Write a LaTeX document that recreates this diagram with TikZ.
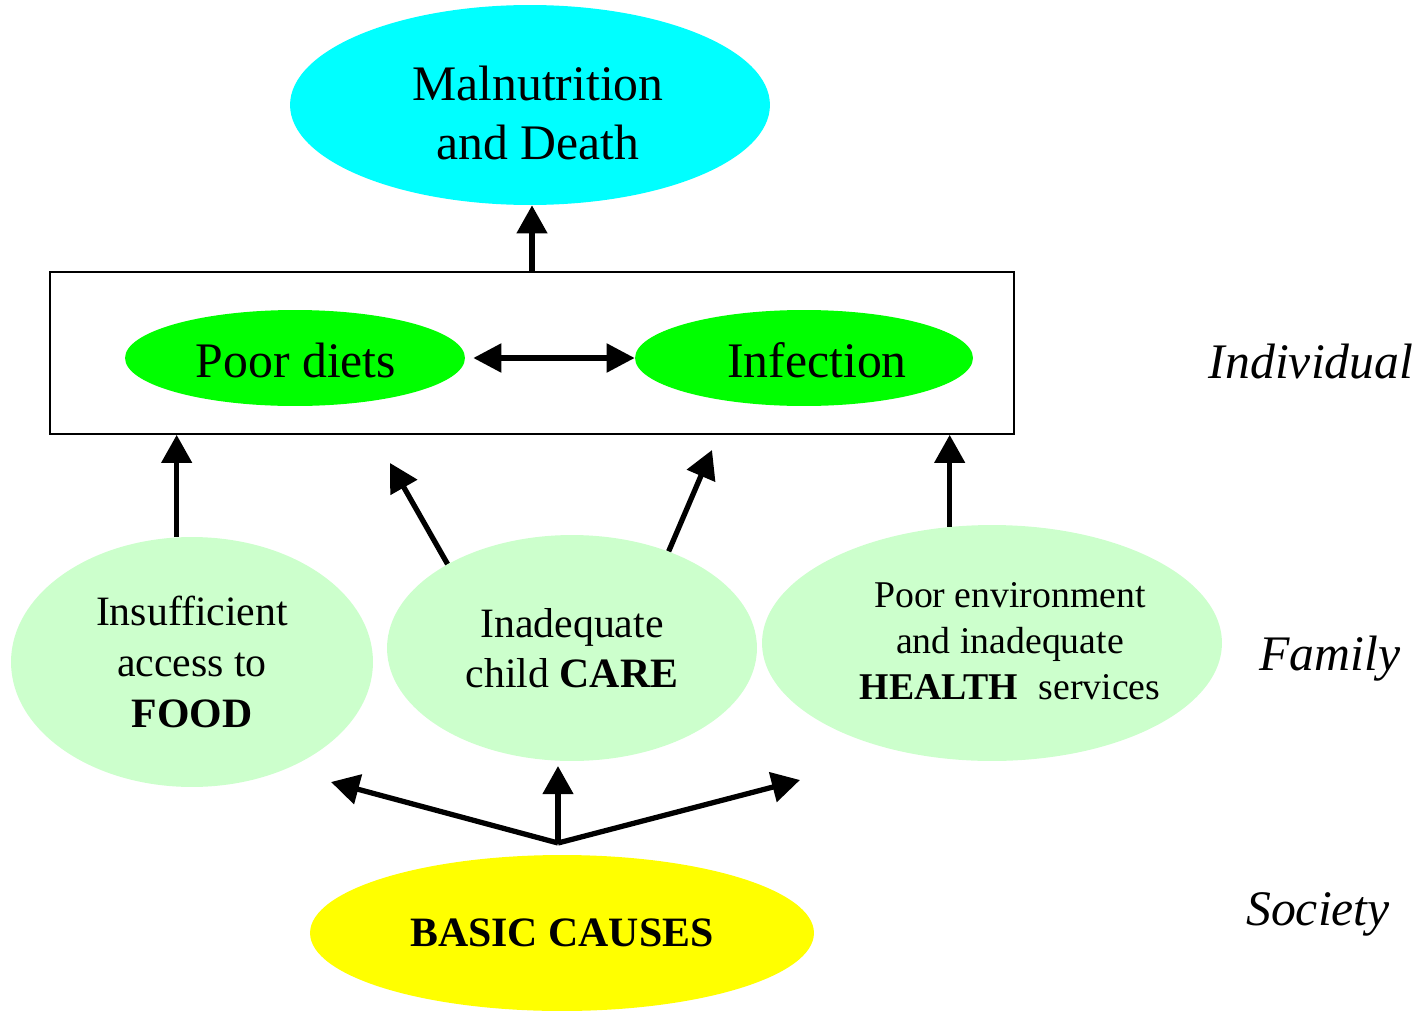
\documentclass[tikz,border=0pt]{standalone}
\usepackage{fontspec}
\setmainfont{Liberation Serif}
\usetikzlibrary{arrows.meta,shapes.geometric,calc}
\definecolor{outcome}{RGB}{0,255,255}
\definecolor{brightgreen}{RGB}{0,255,0}
\definecolor{palegreen}{RGB}{204,255,204}
\definecolor{basicyellow}{RGB}{255,255,0}
\begin{document}
\begin{tikzpicture}[x=0.02cm,y=-0.02cm,line join=miter,
  arr/.style={line width=3pt,-{Triangle[length=16pt,width=17pt]}},
  dblarr/.style={line width=3pt,{Triangle[length=16pt,width=16pt]}-{Triangle[length=16pt,width=16pt]}},
  oval/.style={ellipse,inner sep=0pt,align=center},
  big/.style={font=\fontsize{28.3}{34}\selectfont,align=center},
  mid/.style={font=\fontsize{23.8}{28.8}\selectfont},
  small/.style={font=\fontsize{21.5}{26}\selectfont},
  level/.style={font=\fontsize{28.3}{34}\selectfont\itshape,anchor=base}]
  \useasboundingbox (0,0) rectangle (1424,1011);
  % outcome
  \node[oval,fill=outcome,minimum width=9.6cm,minimum height=4cm] (malnut) at (530,105) {};
  \node[big] (malnuttxt) at (538,113) {Malnutrition\\and Death};
  % individual level
  \node[draw,line width=1pt,minimum width=19.28cm,minimum height=3.24cm,inner sep=0pt] (box) at (532,353) {};
  \node[oval,fill=brightgreen,minimum width=6.8cm,minimum height=1.92cm] (diets) at (295,358) {};
  \node[big] (dietstxt) at (296,360) {Poor diets};
  \node[oval,fill=brightgreen,minimum width=6.76cm,minimum height=1.92cm] (infect) at (804,358) {};
  \node[big] (infecttxt) at (817,360) {Infection};
  % family level
  \node[oval,mid,fill=palegreen,minimum width=7.24cm,minimum height=5cm] (food) at (192,662) {Insufficient\\access to\\\textbf{FOOD}};
  \node[oval,mid,fill=palegreen,minimum width=7.4cm,minimum height=4.52cm] (care) at (572,648) {Inadequate\\child \textbf{CARE}};
  \node[oval,fill=palegreen,minimum width=9.2cm,minimum height=4.72cm] (health) at (992,643) {};
  \node[small,align=center] (healthtxt) at (1010,641) {Poor environment\\and inadequate\\\textbf{HEALTH}\hspace{0.55em}services};
  % society level
  \node[oval,mid,fill=basicyellow,minimum width=10.08cm,minimum height=3.12cm] (basic) at (562,933) {\textbf{BASIC CAUSES}};
  % level labels
  \node[level] (lindiv) at (1311,378) {Individual};
  \node[level] (lfamily) at (1330,670) {Family};
  \node[level] (lsociety) at (1318,925) {Society};
  % free arrow ends
  \coordinate (careL) at (390,463);
  \coordinate (careR) at (712,450);
  \coordinate (fork) at (558,843);
  \coordinate (forkL) at (331,782);
  \coordinate (forkM) at (558,766);
  \coordinate (forkR) at (800,780);
  % connectors
  \draw[arr] (box.north) -- (box.north |- malnut.south);
  \draw[dblarr] ($(diets.east)+(8,0)$) -- (infect.west);
  \draw[arr] (food.97) -- (food.97 |- box.south);
  \draw[arr] (care.146) -- (careL);
  \draw[arr] (care.45) -- (careR);
  \draw[arr] (health.110) -- (health.110 |- box.south);
  \draw[arr] (fork) -- (forkL);
  \draw[arr] (fork) -- (forkM);
  \draw[arr] (fork) -- (forkR);
\end{tikzpicture}
\end{document}
